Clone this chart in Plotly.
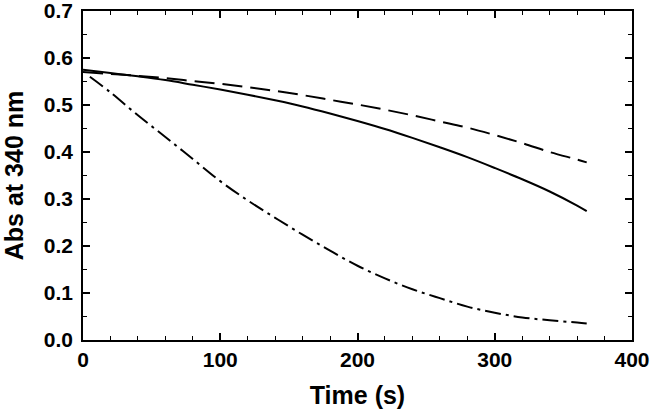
import plotly.graph_objects as go

# Time points (s) and absorbance readings at 340 nm
t_solid = [0, 20, 40, 60, 80, 100, 120, 140, 160, 180, 200, 220, 240, 260, 280, 300, 320, 340, 360, 367]
abs_solid = [0.575, 0.568, 0.561, 0.553, 0.543, 0.533, 0.522, 0.510, 0.497, 0.482, 0.466,
             0.449, 0.430, 0.410, 0.389, 0.366, 0.342, 0.316, 0.286, 0.274]

t_dashed = [0, 20, 40, 60, 80, 100, 120, 140, 160, 180, 200, 220, 240, 260, 280, 300, 320, 340, 360, 367]
abs_dashed = [0.570, 0.566, 0.562, 0.557, 0.551, 0.545, 0.538, 0.530, 0.521, 0.511, 0.501,
              0.490, 0.478, 0.465, 0.452, 0.436, 0.419, 0.400, 0.384, 0.378]

t_dashdot = [5, 20, 40, 60, 80, 100, 120, 140, 160, 180, 200, 220, 240, 260, 280, 300, 320, 340, 360, 367]
abs_dashdot = [0.560, 0.527, 0.478, 0.432, 0.385, 0.338, 0.297, 0.260, 0.224, 0.190, 0.158,
               0.131, 0.108, 0.089, 0.071, 0.058, 0.048, 0.042, 0.037, 0.035]

font_family = "Liberation Sans, Arial, sans-serif"

fig = go.Figure()

# Three kinetic traces
fig.add_trace(go.Scatter(x=t_solid, y=abs_solid, mode='lines',
                         line=dict(color='black', width=2, shape='spline')))
fig.add_trace(go.Scatter(x=t_dashed, y=abs_dashed, mode='lines',
                         line=dict(color='black', width=2, dash='20px,8px', shape='spline')))
fig.add_trace(go.Scatter(x=t_dashdot, y=abs_dashdot, mode='lines',
                         line=dict(color='black', width=2, dash='16px,5px,3px,5px', shape='spline')))

axis_common = dict(
    showline=True,
    linecolor='black',
    linewidth=1.5,
    mirror='allticks',
    ticks='inside',
    ticklen=7,
    tickwidth=1.5,
    tickcolor='black',
    showgrid=False,
    zeroline=False,
    automargin=False,
    ticklabeloverflow='allow',
    tickfont=dict(family=font_family, size=21, color='black', weight='bold'),
)

fig.update_xaxes(
    range=[0, 400],
    dtick=100,
    minor=dict(dtick=20, ticks='inside', ticklen=4, tickcolor='black', tickwidth=1),
    ticklabelstandoff=0,
    title=dict(text='Time (s)', font=dict(family=font_family, size=25, color='black', weight='bold'),
               standoff=17),
    **axis_common,
)
fig.update_yaxes(
    range=[0, 0.70001],  # tiny headroom so the 0.7 tick is not lost to float rounding
    dtick=0.1,
    tickformat='.1f',
    minor=dict(dtick=0.05, ticks='inside', ticklen=4, tickcolor='black', tickwidth=1),
    ticklabelstandoff=4,
    title=dict(text='Abs at 340 nm', font=dict(family=font_family, size=25, color='black', weight='bold'),
               standoff=16),
    **axis_common,
)

fig.update_layout(
    width=654,
    height=411,
    margin=dict(l=83, r=22, t=11, b=71),
    plot_bgcolor='white',
    paper_bgcolor='white',
    showlegend=False,
)

# Drop the browser's default body margin so the figure sits at the page corner
fig.write_html("out.html", config={'displayModeBar': False},
               post_script="document.body.style.margin='0';")
